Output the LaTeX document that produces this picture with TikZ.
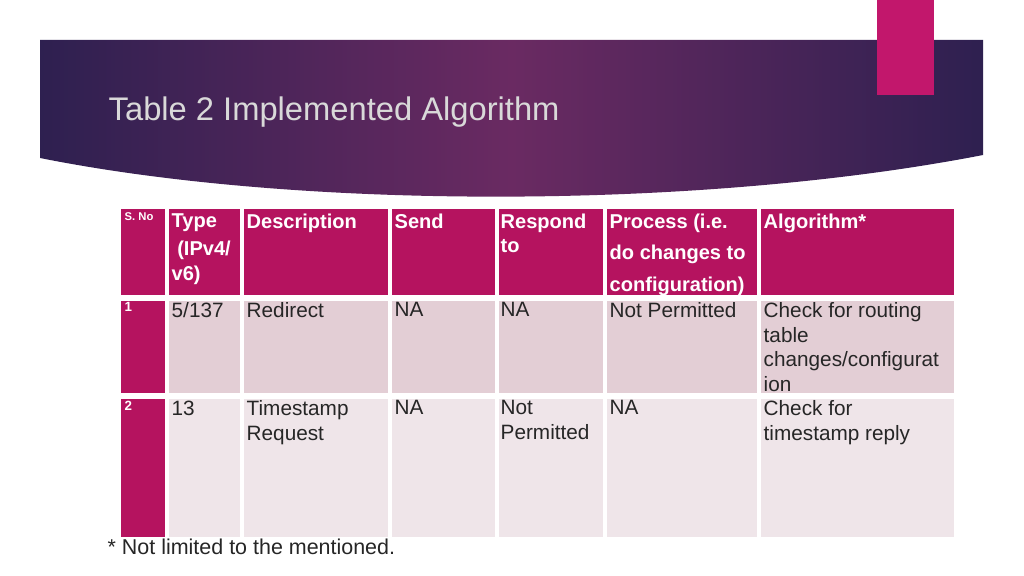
\documentclass[tikz,border=0pt]{standalone}
\usepackage{fontspec}
\setmainfont{Liberation Sans}
\definecolor{mag}{HTML}{B5135F}
\definecolor{rowa}{HTML}{E3CED5}
\definecolor{rowb}{HTML}{EFE5E9}
\definecolor{banA}{HTML}{2E2050}
\definecolor{banB}{HTML}{6A2A62}
\definecolor{tab}{HTML}{C2176C}
\begin{document}
\begin{tikzpicture}[x=0.01cm,y=-0.01cm,
  cell/.style={anchor=north west,inner sep=0pt,align=left,text=black!85,font=\fontsize{5.9}{7}\selectfont},
  hcell/.style={cell,text=white,font=\fontsize{5.7}{7}\selectfont\bfseries}]
\useasboundingbox (0,0) rectangle (1024,576);
\fill[white] (0,0) rectangle (1024,576);
\shade[left color=banA,right color=banA,middle color=banB] (40,40) -- (983,40) -- (983,155) .. controls (700,210) and (300,210) .. (40,158) -- cycle;
\fill[tab] (877,0) rectangle (934,95);
\node[anchor=west,inner sep=0pt,text=black!15,font=\fontsize{9.3}{10}\selectfont] (title) at (108,112) {Table 2 Implemented Algorithm};
% table
\fill[mag] (121,209) rectangle (954,298);
\fill[mag] (121,298) rectangle (167,537);
\fill[rowa] (167,298) rectangle (954,396);
\fill[rowb] (167,396) rectangle (954,537);
\foreach \x in {167,242,390,497,605,759} \draw[white,line width=1.2pt] (\x,209) -- (\x,537);
\foreach \y in {298,396} \draw[white,line width=1.5pt] (121,\y) -- (954,\y);
\node[hcell,font=\fontsize{3.2}{4}\selectfont\bfseries] (h0) at (124,212) {S. No};
\node[hcell] (h1) at (171,213) {Type\\[1pt]\ (IPv4/\\v6)};
\node[hcell] (h2) at (246,213) {Description};
\node[hcell] (h3) at (394,213) {Send};
\node[hcell] (h4) at (500,213) {Respond\\to};
\node[hcell] (h5) at (609,213) {Process (i.e.\\[2pt]do changes to\\[2pt]configuration)};
\node[hcell] (h6) at (763,213) {Algorithm*};
\node[hcell,font=\fontsize{3.8}{4}\selectfont\bfseries] (r1) at (124,302) {1};
\node[cell] (a1) at (171,302) {5/137};
\node[cell] (a2) at (246,302) {Redirect};
\node[cell] (a3) at (394,302) {NA};
\node[cell] (a4) at (500,302) {NA};
\node[cell] (a5) at (609,302) {Not Permitted};
\node[cell] (a6) at (763,302) {Check for routing\\table\\changes/configurat\\ion};
\node[hcell,font=\fontsize{3.8}{4}\selectfont\bfseries] (r2) at (124,400) {2};
\node[cell] (b1) at (171,400) {13};
\node[cell] (b2) at (246,400) {Timestamp\\Request};
\node[cell] (b3) at (394,400) {NA};
\node[cell] (b4) at (500,400) {Not\\Permitted};
\node[cell] (b5) at (609,400) {NA};
\node[cell] (b6) at (763,400) {Check for\\timestamp reply};
\node[cell,font=\fontsize{6.1}{7}\selectfont] (foot) at (107,538) {* Not limited to the mentioned.};
\end{tikzpicture}
\end{document}
